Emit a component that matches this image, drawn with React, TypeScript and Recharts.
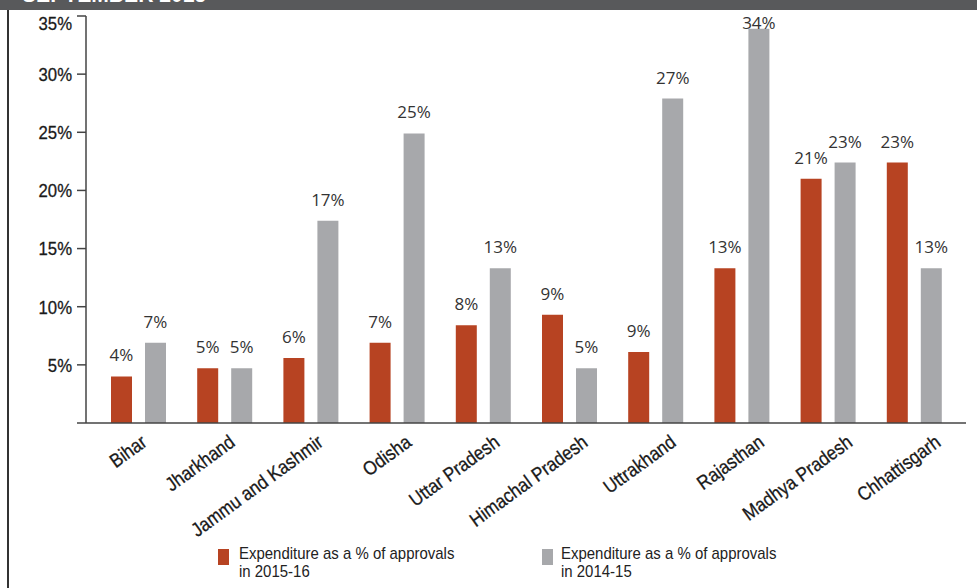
import { BarChart, Bar, XAxis, YAxis, LabelList } from 'recharts';

// states in the order shown
const states = [
  'Bihar', 'Jharkhand', 'Jammu and Kashmir', 'Odisha', 'Uttar Pradesh',
  'Himachal Pradesh', 'Uttrakhand', 'Rajasthan', 'Madhya Pradesh', 'Chhattisgarh',
];
// bar heights (%)
const exp1516 = [4.0, 4.7, 5.6, 6.9, 8.4, 9.3, 6.1, 13.3, 21.0, 22.4];
const exp1415 = [6.9, 4.7, 17.4, 24.9, 13.3, 4.7, 27.9, 33.9, 22.4, 13.3];
// printed labels
const labels1516 = ['4%', '5%', '6%', '7%', '8%', '9%', '9%', '13%', '21%', '23%'];
const labels1415 = ['7%', '5%', '17%', '25%', '13%', '5%', '27%', '34%', '23%', '13%'];
const yTicks = [0, 5, 10, 15, 20, 25, 30, 35];

const RED = '#b74322';
const GREY = '#a7a8ab';
// no narrow face installed, so squeeze Liberation Sans horizontally
const SANS = '"Liberation Sans", Arial, sans-serif';
const SQUEEZE = 0.88;

const data = states.map((s, i) => ({
  state: s,
  a: exp1516[i],
  b: exp1415[i],
  la: labels1516[i],
  lb: labels1415[i],
}));

const renderLabel = (p: any) => {
  const y = Math.max(p.y - 15, 29);
  return (
    <text x={p.x + p.width / 2} y={y} textAnchor="middle" fontFamily='"Open Sans", sans-serif'
      fontSize={17} fill="#333">
      {p.value}
    </text>
  );
};

// labels in the source are spread a touch wider than the bars
const StateTick = (p: any) => {
  const x = p.x + 10 + 2 * p.index;
  const y = p.y + 22;
  return (
    <g transform={`translate(${x}, ${y}) rotate(-36) scale(${SQUEEZE}, 1)`}>
      <text x={0} y={0} textAnchor="end" fontFamily={SANS} fontSize={19.5} fill="#1a1a1a"
        stroke="#1a1a1a" strokeWidth={0.3}>
        {p.payload.value}
      </text>
    </g>
  );
};

const PctTick = (p: any) => {
  if (p.payload.value === 0) return null;
  const y = p.payload.value === 35 ? p.y + 7 : p.y;
  return (
    <g transform={`translate(${p.x}, ${y}) scale(${SQUEEZE}, 1)`}>
      <text x={0} y={0} dy="0.36em" textAnchor="end" fontFamily={SANS} fontSize={19} fill="#1a1a1a"
        stroke="#1a1a1a" strokeWidth={0.3}>
        {p.payload.value}%
      </text>
    </g>
  );
};

function LegendItem({ color, left, gap, lines }: { color: string; left: number; gap: number; lines: string[] }) {
  return (
    <div style={{ position: 'absolute', left, top: 545 }}>
      <div style={{ position: 'absolute', left: 0, top: 4, width: 11, height: 16, background: color }} />
      <div style={{
        position: 'absolute', left: gap, top: 0, whiteSpace: 'nowrap', fontFamily: SANS, fontSize: 17,
        lineHeight: '18px', color: '#222', transform: `scaleX(${SQUEEZE})`, transformOrigin: 'left top',
      }}>
        {lines[0]}<br />{lines[1]}
      </div>
    </div>
  );
}

export default function App() {
  return (
    <div style={{ position: 'absolute', left: 0, top: 0, width: 977, height: 588, background: '#fff', overflow: 'hidden' }}>
      {/* header band, cropped in the source */}
      <div style={{ position: 'absolute', left: 0, top: 0, width: 977, height: 10, background: '#58595b', overflow: 'hidden' }}>
        <div style={{
          position: 'absolute', left: 22, top: -18, fontFamily: SANS, fontWeight: 'bold', fontSize: 24,
          lineHeight: '24px', color: '#fff', whiteSpace: 'nowrap', transform: `scaleX(${SQUEEZE})`, transformOrigin: 'left top',
        }}>
          SEPTEMBER 2015
        </div>
      </div>
      <div style={{ position: 'absolute', left: 7, top: 10, width: 1.5, height: 578, background: '#333' }} />

      <div style={{ position: 'absolute', left: 0, top: 0 }}>
        <BarChart width={977} height={588} data={data} barSize={21} barGap={13}
          margin={{ top: 16, right: 11, bottom: 0, left: 0 }}>
          <XAxis dataKey="state" interval={0} height={165} tickLine={false} tickSize={0} tickMargin={0}
            padding={{ left: 9, right: 9 }} axisLine={{ stroke: '#444', strokeWidth: 1.5 }} tick={<StateTick />} />
          <YAxis width={86} domain={[0, 35]} ticks={yTicks} tickSize={9} tickMargin={5}
            axisLine={{ stroke: '#444', strokeWidth: 1.5 }} tickLine={{ stroke: '#444', strokeWidth: 1.5 }}
            tick={<PctTick />} />
          <Bar dataKey="a" fill={RED} isAnimationActive={false}>
            <LabelList dataKey="la" content={renderLabel} />
          </Bar>
          <Bar dataKey="b" fill={GREY} isAnimationActive={false}>
            <LabelList dataKey="lb" content={renderLabel} />
          </Bar>
        </BarChart>
      </div>

      <LegendItem color={RED} left={218} gap={21} lines={['Expenditure as a % of approvals', 'in 2015-16']} />
      <LegendItem color={GREY} left={542} gap={19} lines={['Expenditure as a % of approvals', 'in 2014-15']} />
    </div>
  );
}
